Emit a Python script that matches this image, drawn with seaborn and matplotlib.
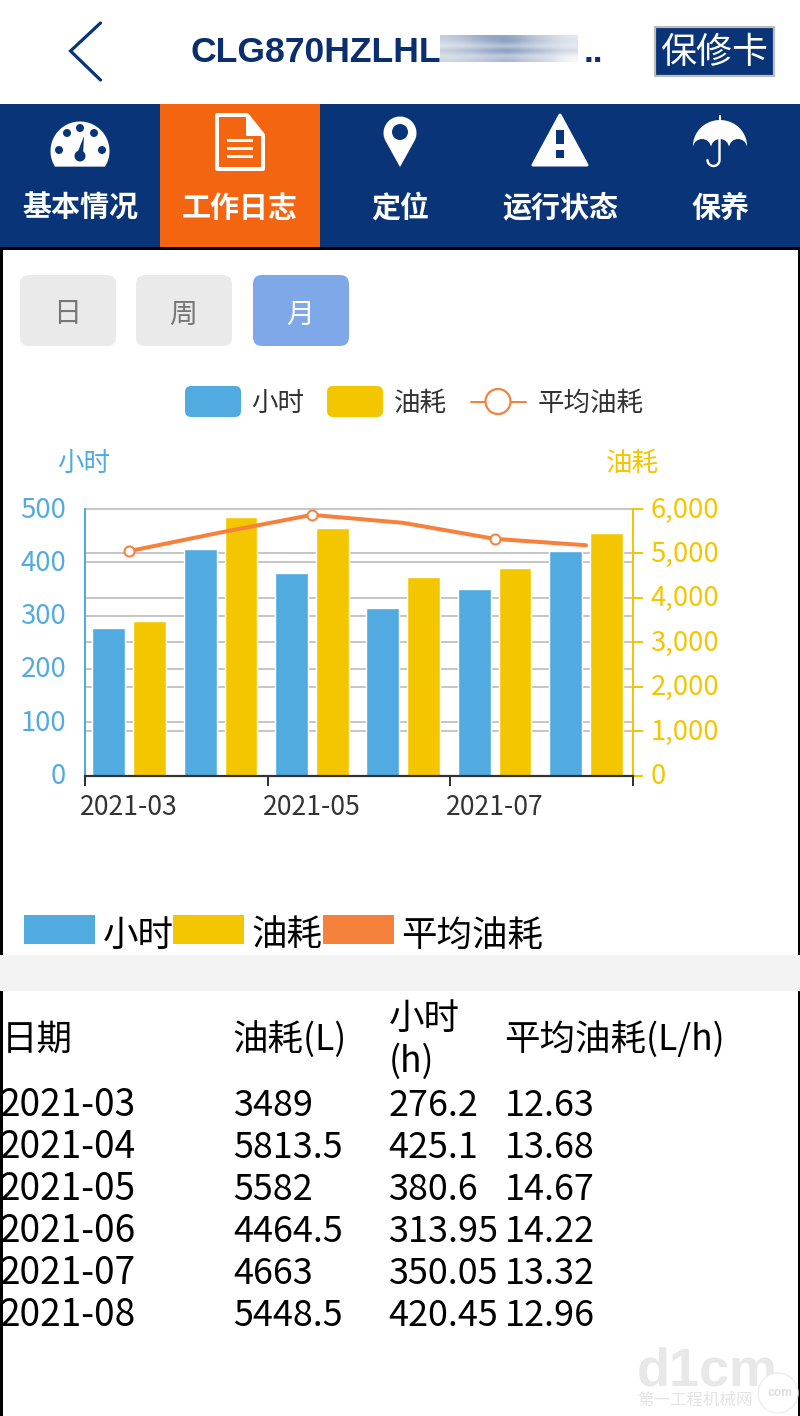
import numpy as np
import pandas as pd
import matplotlib
matplotlib.use("Agg")
import matplotlib.pyplot as plt
from matplotlib.patches import Rectangle, FancyBboxPatch, Circle, Polygon
from matplotlib.colors import LinearSegmentedColormap
from matplotlib.transforms import ScaledTranslation
import seaborn as sns

# ---------- data ----------
months = ["2021-03", "2021-04", "2021-05", "2021-06", "2021-07", "2021-08"]
fuel = [3489, 5813.5, 5582, 4464.5, 4663, 5448.5]
hours = [276.2, 425.1, 380.6, 313.95, 350.05, 420.45]
avg_fuel = [12.63, 13.68, 14.67, 14.22, 13.32, 12.96]
marked_months = ["2021-03", "2021-05", "2021-07"]
hour_ticks = [0, 100, 200, 300, 400, 500]
fuel_ticks = [0, 1000, 2000, 3000, 4000, 5000, 6000]
nav_labels = ["基本情况", "工作日志", "定位", "运行状态", "保养"]
range_labels = ["日", "周", "月"]
name_hours, name_fuel, name_avg = "小时", "油耗", "平均油耗"
table_heads = ["日期", "油耗(L)", "平均油耗(L/h)"]

# ---------- style ----------
BLUE, YELLOW, ORANGE = "#51ABE1", "#F3C600", "#F5813C"
NAVY, TAB = "#0A3478", "#F46511"
GRID = "#C6C6C6"
sns.set_theme(style="white")
CJK = ["Noto Sans CJK SC", "DejaVu Sans"]
plt.rcParams["font.family"] = CJK
W, H = 800, 1416
PX = 0.72  # px -> pt at dpi 100
fig = plt.figure(figsize=(W / 100, H / 100), dpi=100, facecolor="white")

# page furniture, in pixel coordinates
ui = fig.add_axes([0, 0, 1, 1], zorder=0)
ui.set_xlim(0, W)
ui.set_ylim(H, 0)
ui.axis("off")

def rect(x0, y0, x1, y1, fc, ec="none", lw=0, z=1):
    ui.add_patch(Rectangle((x0, y0), x1 - x0, y1 - y0, fc=fc, ec=ec, lw=lw, zorder=z))

def rrect(x0, y0, x1, y1, r, fc, z=1):
    ui.add_patch(FancyBboxPatch((x0 + r, y0 + r), x1 - x0 - 2 * r, y1 - y0 - 2 * r,
                                boxstyle=f"round,pad={r},rounding_size={r}", fc=fc, ec="none", zorder=z))

def txt(x, y, s, px, color="black", ha="left", va="center", weight="normal", family=None, z=5):
    dy = 3.5 if va == "center" else 0
    ui.text(x, y + dy, s, fontsize=px * PX, color=color, ha=ha, va=va, fontweight=weight,
            family=family or CJK, zorder=z)

# header
ui.plot([100.5, 70.5, 100.5], [23, 51, 80], color=NAVY, lw=3.2 * PX, solid_capstyle="round", solid_joinstyle="miter", zorder=3)
txt(191, 62, "CLG870HZLHL", 35.5, "#0A2E6E", va="baseline", weight="bold", family="Liberation Sans")
blur = np.array([[.25, .35, .45, .45, .3, .2, .1],
                 [.2, .3, .4, .55, .35, .25, .15],
                 [.1, .15, .2, .2, .15, .12, .08],
                 [.3, .4, .5, .65, .45, .35, .2],
                 [.12, .15, .2, .2, .15, .12, .05],
                 [.2, .25, .3, .4, .25, .2, .03]])
ui.imshow(blur, cmap=LinearSegmentedColormap.from_list("b", ["white", NAVY]), vmin=0, vmax=1,
          extent=(440, 578, 62, 35), aspect="auto", interpolation="bicubic", zorder=2)
ui.set_xlim(0, W)
ui.set_ylim(H, 0)
txt(584, 62, "..", 35, "#0A2E6E", va="baseline", weight="bold", family="Liberation Sans")
rect(655, 27, 774, 76, NAVY, ec="#BDBDBD", lw=2.2 * PX, z=2)
txt(714, 50, "保修卡", 36, "white", ha="center")

# nav bar
rect(0, 104, W, 247, NAVY)
rect(160, 104, 320, 247, TAB, z=2)
for cx, lab in zip([80, 240, 400, 560, 720], nav_labels):
    txt(cx, 204, lab, 29, "white", ha="center", weight="bold")

# gauge icon
t = np.linspace(np.radians(-32), np.radians(212), 60)
ui.add_patch(Polygon(np.c_[80 + 29.5 * np.cos(t), 151 - 29.5 * np.sin(t)], fc="white", ec="none", zorder=3))
for dx, dy in [(-21, -1), (-13, -18), (0, -23), (14, -18), (22, -1)]:
    ui.add_patch(Circle((80 + dx, 151 + dy), 4, fc=NAVY, ec="none", zorder=4))
ui.add_patch(Circle((80, 156), 5.5, fc=NAVY, ec="none", zorder=4))
ui.add_patch(Polygon([(77, 154), (83, 156), (84, 136)], fc=NAVY, ec="none", zorder=4))
# document icon
ui.add_patch(Polygon([(217, 115), (247, 115), (263, 135), (263, 169), (217, 169)], fc="none", ec="white",
                     lw=4 * PX, joinstyle="round", zorder=4))
ui.add_patch(Polygon([(247, 115), (247, 135), (263, 135)], fc="white", ec="white", lw=2 * PX, joinstyle="round", zorder=4))
for yy in (140, 148, 156):
    rect(227, yy - 1.5, 253, yy + 1.5, "white", z=4)
# pin icon
t = np.linspace(np.radians(-30), np.radians(210), 40)
ui.add_patch(Polygon(np.r_[np.c_[400 + 16.5 * np.cos(t), 133 - 16.5 * np.sin(t)], [[400, 167]]], fc="white", ec="none", zorder=3))
ui.add_patch(Circle((400, 132), 8, fc=NAVY, ec="none", zorder=4))
# warning icon
ui.add_patch(Polygon([(560, 115), (587, 165), (533, 165)], fc="white", ec="white", lw=3 * PX, joinstyle="round", zorder=3))
rect(556, 130, 564, 144, NAVY, z=4)
rect(556, 150, 564, 158, NAVY, z=4)
# umbrella icon
t = np.linspace(0, np.pi, 40)
ui.add_patch(Polygon(np.c_[720 + 27 * np.cos(t), 146 - 26 * np.sin(t)], fc="white", ec="none", zorder=3))
for cx in (702, 720, 738):
    ui.add_patch(Circle((cx, 148), 9, fc=NAVY, ec="none", zorder=4))
rect(718.5, 115, 720.5, 122, "white", z=4)
t = np.linspace(0, -np.pi, 20)
ui.plot(np.r_[719.5, 719.5, 713.5 + 6 * np.cos(t)], np.r_[139, 160, 160 - 6 * np.sin(t)],
        color="white", lw=2.4 * PX, zorder=5)

# panel frame
rect(0, 247, W, 249.5, "black")
rect(0, 247, 2.5, H, "black")
rect(797.5, 247, W, H, "black")
rect(0, 955, W, 991, "#F3F3F3", z=2)

# range buttons
for (x0, x1), lab, fc, tc in zip([(20, 116), (136, 232), (253, 349)], range_labels,
                                 ["#EAEAEA", "#EAEAEA", "#7FA8E8"], ["#777777", "#777777", "white"]):
    rrect(x0, 275, x1, 346, 9, fc)
    txt((x0 + x1) / 2 - 0.5, 311, lab, 28, tc, ha="center")

# top legend
rrect(185, 386, 241, 417, 6, BLUE)
txt(251.5, 400, name_hours, 26.5, "#333333")
rrect(327, 386, 383, 417, 6, YELLOW)
txt(393.5, 400, name_fuel, 26.5, "#333333")
ui.plot([471, 526], [401.5, 401.5], color=ORANGE, lw=2 * PX, zorder=2)
ui.add_patch(Circle((498, 401.5), 12.5, fc="white", ec=ORANGE, lw=2.2 * PX, zorder=3))
txt(537.5, 400, name_avg, 26.5, "#333333")
txt(57.5, 460, name_hours, 26.5, BLUE)
txt(605.5, 460, name_fuel, 26.5, YELLOW)

# bottom legend
for x0, x1, c in [(24, 95, BLUE), (173, 244, YELLOW), (323, 394, ORANGE)]:
    rect(x0, 915, x1, 944, c)
txt(102.5, 932, name_hours, 35.5)
txt(251.5, 932, name_fuel, 35.5)
txt(401.5, 932, name_avg, 35.5)

# table
txt(2, 1036, table_heads[0], 35.5)
txt(233, 1036, table_heads[1], 35.5)
txt(388.5, 1015, name_hours, 35.5)
txt(388.5, 1058, "(h)", 35.5)
txt(504, 1036, table_heads[2], 35.5)
for row, (m, f, h_, a) in enumerate(zip(months, fuel, hours, avg_fuel)):
    yy = 1102 + 42.1 * row
    txt(0, yy, m, 37)
    txt(233.5, yy, f"{f:g}", 36)
    txt(388.5, yy, f"{h_:g}", 36)
    txt(505, yy, f"{a:g}", 36)

# watermark
txt(637, 1385, "d1cm", 54, "#E8E8E8", va="baseline", weight="bold", family="Liberation Sans", z=1)
txt(637, 1397, "第一工程机械网", 16.5, "#E4E4E4", z=1)
ui.add_patch(Circle((778, 1393), 20, fc="white", ec="#EEEEEE", lw=1, zorder=2))
txt(780, 1390, "com", 12, "#DDDDDD", ha="center", weight="bold", family="Liberation Sans", z=3)

# ---------- chart ----------
pos = [85 / W, 1 - 775.5 / H, (633 - 85) / W, (775.5 - 509) / H]
OFF = 0.015  # marks sit a hair left of the exact band centres
XLIM = (-0.5 + OFF, 5.5 + OFF)

def layer(z):
    a = fig.add_axes(pos, zorder=z)
    a.patch.set_alpha(0)
    return a

for ticks, lim in ((hour_ticks, 500), (fuel_ticks, 6000)):
    g = layer(1)
    g.set_ylim(0, lim)
    g.set_xticks([])
    g.set_yticks(ticks)
    g.set_yticklabels([])
    g.tick_params(length=0)
    g.grid(axis="y", color=GRID, lw=2 * PX, clip_on=False)
    for gl in g.get_ygridlines():
        gl.set_clip_on(False)
    g.set_axisbelow(True)
    sns.despine(ax=g, left=True, bottom=True)

levels = [name_hours, name_fuel]
palette = {name_hours: BLUE, name_fuel: YELLOW}
bar_kw = dict(x="month", y="value", hue="metric", hue_order=levels, palette=palette, order=months,
              width=0.897, gap=0.2, saturation=1, errorbar=None, legend=False)

df_h = pd.DataFrame({"month": months * 2, "value": hours + [np.nan] * 6,
                     "metric": [name_hours] * 6 + [name_fuel] * 6})
df_f = pd.DataFrame({"month": months * 2, "value": [np.nan] * 6 + fuel,
                     "metric": [name_hours] * 6 + [name_fuel] * 6})

lift = ScaledTranslation(0, 2 / 100, fig.dpi_scale_trans)

ax = layer(2)
sns.barplot(data=df_h, ax=ax, **bar_kw)
ax.set_xlim(*XLIM)
ax.set_ylim(0, 500)
ax.set_yticks(hour_ticks)
ax.set_xlabel("")
ax.set_ylabel("")
ax.tick_params(axis="y", colors=BLUE, length=8.6, width=2 * PX, labelsize=27.5 * PX, pad=5)
ax.set_xticks([v + OFF for v in (-0.5, 1.5, 3.5, 5.5)], labels=[])
ax.set_xticks(range(0, 6, 2), labels=marked_months, minor=True)
ax.tick_params(axis="x", which="major", length=7, width=2 * PX, color="#333333", bottom=True)
ax.tick_params(axis="x", which="minor", length=0, labelsize=26.5 * PX, labelcolor="#333333", pad=13.5)
for s in ("top", "right"):
    ax.spines[s].set_visible(False)
ax.spines["left"].set_color(BLUE)
ax.spines["left"].set_linewidth(2 * PX)
ax.spines["bottom"].set_visible(False)
for lab in ax.get_yticklabels():
    lab.set_transform(lab.get_transform() + lift)

ax2 = layer(3)
sns.barplot(data=df_f, ax=ax2, **bar_kw)
ax2.set_xlim(*XLIM)
ax2.set_ylim(0, 6000)
ax2.set_xlabel("")
ax2.set_ylabel("")
ax2.set_xticks([])
ax2.yaxis.tick_right()
ax2.set_yticks(fuel_ticks, labels=[f"{v:,}" for v in fuel_ticks])
ax2.tick_params(axis="y", colors=YELLOW, length=7.2, width=2 * PX, labelsize=27.5 * PX, pad=5.5)
for s in ("top", "left"):
    ax2.spines[s].set_visible(False)
ax2.spines["right"].set_color(YELLOW)
ax2.spines["right"].set_linewidth(2 * PX)
ax2.spines["bottom"].set_color("#333333")
ax2.spines["bottom"].set_linewidth(2.2 * PX)
for lab in ax2.get_yticklabels():
    lab.set_transform(lab.get_transform() + lift)

ax3 = layer(4)
df_a = pd.DataFrame({"month": months, "avg": avg_fuel})
sns.lineplot(data=df_a, x="month", y="avg", ax=ax3, color=ORANGE, lw=4 * PX, sort=False, errorbar=None)
sns.scatterplot(data=df_a[df_a["month"].isin(marked_months)], x="month", y="avg", ax=ax3, s=(10 * PX) ** 2,
                color="white", edgecolor=ORANGE, linewidth=2 * PX, zorder=5, clip_on=False)
ax3.set_xlim(*XLIM)
ax3.set_ylim(0, 15)
ax3.axis("off")

fig.savefig("out.png", dpi=100, facecolor="white")
